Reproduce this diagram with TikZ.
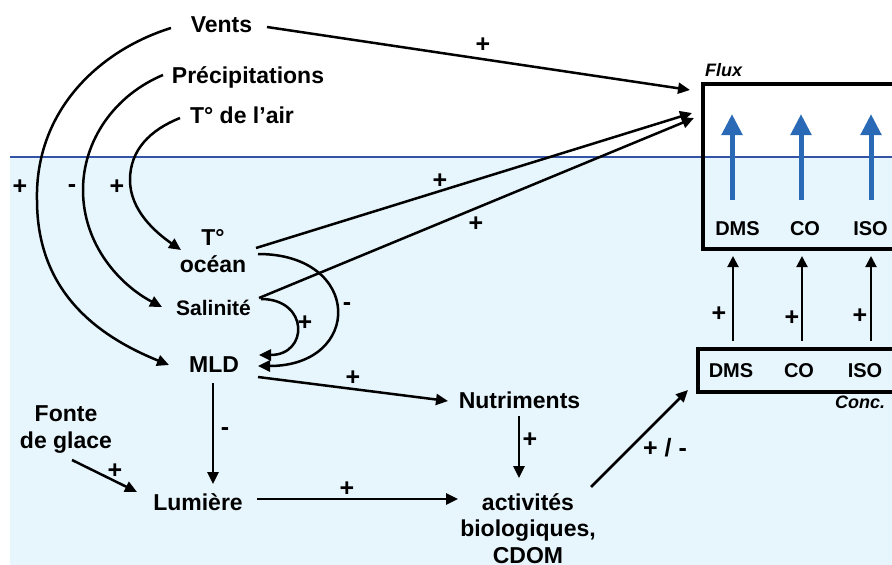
\documentclass[tikz,border=0pt]{standalone}
\usepackage{fontspec}
\setmainfont{Liberation Sans}
\usetikzlibrary{arrows.meta}
\definecolor{sea}{HTML}{E7F5FC}
\definecolor{sealine}{HTML}{3353A6}
\definecolor{fluxblue}{HTML}{2A69B6}
\begin{document}
\begin{tikzpicture}[x=1pt,y=-1pt,
  lbl/.style={font=\fontsize{23}{27}\selectfont\bfseries, inner sep=0pt, anchor=base, align=center},
  biolbl/.style={font=\fontsize{23}{26.5}\selectfont\bfseries, inner sep=0pt, anchor=base, align=center},
  mid/.style={font=\fontsize{21}{24}\selectfont\bfseries, inner sep=0pt, anchor=base},
  small/.style={font=\fontsize{20}{24}\selectfont\bfseries, inner sep=0pt, anchor=base},
  sign/.style={font=\fontsize{25}{28}\selectfont\bfseries, inner sep=0pt, anchor=base},
  tag/.style={font=\fontsize{18}{20}\selectfont\bfseries\itshape, inner sep=0pt, anchor=base},
  link/.style={line width=2.5pt, -{Triangle[length=12pt,width=11pt]}},
  thinlink/.style={line width=2pt, -{Triangle[length=11pt,width=11pt]}},
  fluxarrow/.style={line width=5pt, fluxblue, -{Triangle[length=21pt,width=20pt]}},
  boxline/.style={line width=3.5pt}
]
\useasboundingbox (0,0) rectangle (892,565);
\clip (0,0) rectangle (892,565);
% sea
\fill[sea] (10,157) rectangle (900,570);
\draw[sealine, line width=2.8pt] (10,157) -- (900,157);

% boxes
\draw[boxline] (703,84) rectangle (905,249);
\draw[boxline] (698,349) rectangle (905,392);

% text nodes
\node[lbl] (vents) at (221.5,32) {Vents};
\node[lbl] (precip) at (248,83) {Précipitations};
\node[lbl] (tair) at (242,123) {T° de l’air};
\node[lbl] (tocean) at (213,272) {T°\\océan};
\node[mid] (sal) at (213.5,315) {Salinité};
\node[lbl] (mld) at (214,372) {MLD};
\node[lbl] (nutri) at (519.5,408) {Nutriments};
\node[lbl] (fonte) at (66,448) {Fonte\\de glace};
\node[lbl] (lum) at (198,510) {Lumière};
\node[biolbl] (bio) at (528,563) {activités\\biologiques,\\CDOM};

\node[small] (fdms) at (737.5,235) {DMS};
\node[small] (fco) at (805,235) {CO};
\node[small] (fiso) at (870.5,235) {ISO};
\node[small] (cdms) at (731,377) {DMS};
\node[small] (cco) at (799,377) {CO};
\node[small] (ciso) at (865,377) {ISO};
\node[tag] (fluxtag) at (723.5,76) {Flux};
\node[tag] (conctag) at (860,408) {Conc.};

% connector end points
\coordinate (ventsR) at (267,27);
\coordinate (fluxA) at (690,90);
\coordinate (toceanR) at (256,248);
\coordinate (fluxB) at (692,113);
\coordinate (salR) at (259,298);
\coordinate (fluxC) at (694,118);
\coordinate (ventsL) at (171,28);
\coordinate (ventsM) at (37,200);
\coordinate (mldL) at (169,365);
\coordinate (precipL) at (163,75);
\coordinate (precipM) at (83,190);
\coordinate (salL) at (162,307);
\coordinate (tairL) at (180,118);
\coordinate (tairM) at (130,180);
\coordinate (toceanL) at (181,250);
\coordinate (toceanR2) at (258,254);
\coordinate (mldR1) at (258,366);
\coordinate (salR2) at (261,299);
\coordinate (mldR2) at (259,355);
\coordinate (mldR3) at (258,377);
\coordinate (nutriL) at (448,401);
\coordinate (mldB) at (213,383);
\coordinate (lumT) at (213,484);
\coordinate (fonteB) at (72,460);
\coordinate (lumL) at (137,492);
\coordinate (lumR) at (257,499);
\coordinate (bioL) at (458,499);
\coordinate (nutriB) at (519,416);
\coordinate (bioT) at (519,478);
\coordinate (bioR) at (591,487);
\coordinate (concL) at (688,390);

% connectors
\draw[link] (ventsR) -- (fluxA);
\draw[link] (toceanR) -- (fluxB);
\draw[link] (salR) -- (fluxC);
\draw[link] (ventsL) .. controls (100,50) and (35,110) .. (ventsM)
   .. controls (37,290) and (95,335) .. (mldL);
\draw[link] (precipL) .. controls (115,95) and (83,140) .. (precipM)
   .. controls (83,245) and (120,285) .. (salL);
\draw[link] (tairL) .. controls (150,130) and (130,150) .. (tairM)
   .. controls (130,210) and (155,232) .. (toceanL);
\draw[link] (toceanR2) .. controls (363,254) and (363,366) .. (mldR1);
\draw[link] (salR2) .. controls (309,299) and (309,355) .. (mldR2);
\draw[link] (mldR3) -- (nutriL);
\draw[link] (mldB) -- (lumT);
\draw[link] (fonteB) -- (lumL);
\draw[link] (lumR) -- (bioL);
\draw[link] (nutriB) -- (bioT);
\draw[link] (bioR) -- (concL);

% flux arrows
\foreach \x/\n in {732/a,801/b,871/c}{
  \coordinate (fb\n) at (\x,200);
  \coordinate (ft\n) at (\x,114);
  \draw[fluxarrow] (fb\n) -- (ft\n);
}
\foreach \x/\n in {733/a,802/b,871/c}{
  \coordinate (cb\n) at (\x,341);
  \coordinate (ct\n) at (\x,256);
  \draw[thinlink] (cb\n) -- (ct\n);
}

% signs
\node[sign] (s1) at (483,52) {+};
\node[sign] (s2) at (440,188) {+};
\node[sign] (s3) at (476,231) {+};
\node[sign] (s4) at (20,194) {+};
\node[sign] (s5) at (72,192) {-};
\node[sign] (s6) at (117,194) {+};
\node[sign] (s7) at (347,310) {-};
\node[sign] (s8) at (305,330) {+};
\node[sign] (s9) at (353,385) {+};
\node[sign] (s10) at (225,435) {-};
\node[sign] (s11) at (115,478) {+};
\node[sign] (s12) at (347,496) {+};
\node[sign] (s13) at (530,447) {+};
\node[sign] (s14) at (665,456) {+ / -};
\node[sign] (s15) at (719,321) {+};
\node[sign] (s16) at (792,325) {+};
\node[sign] (s17) at (860,323) {+};
\end{tikzpicture}
\end{document}
